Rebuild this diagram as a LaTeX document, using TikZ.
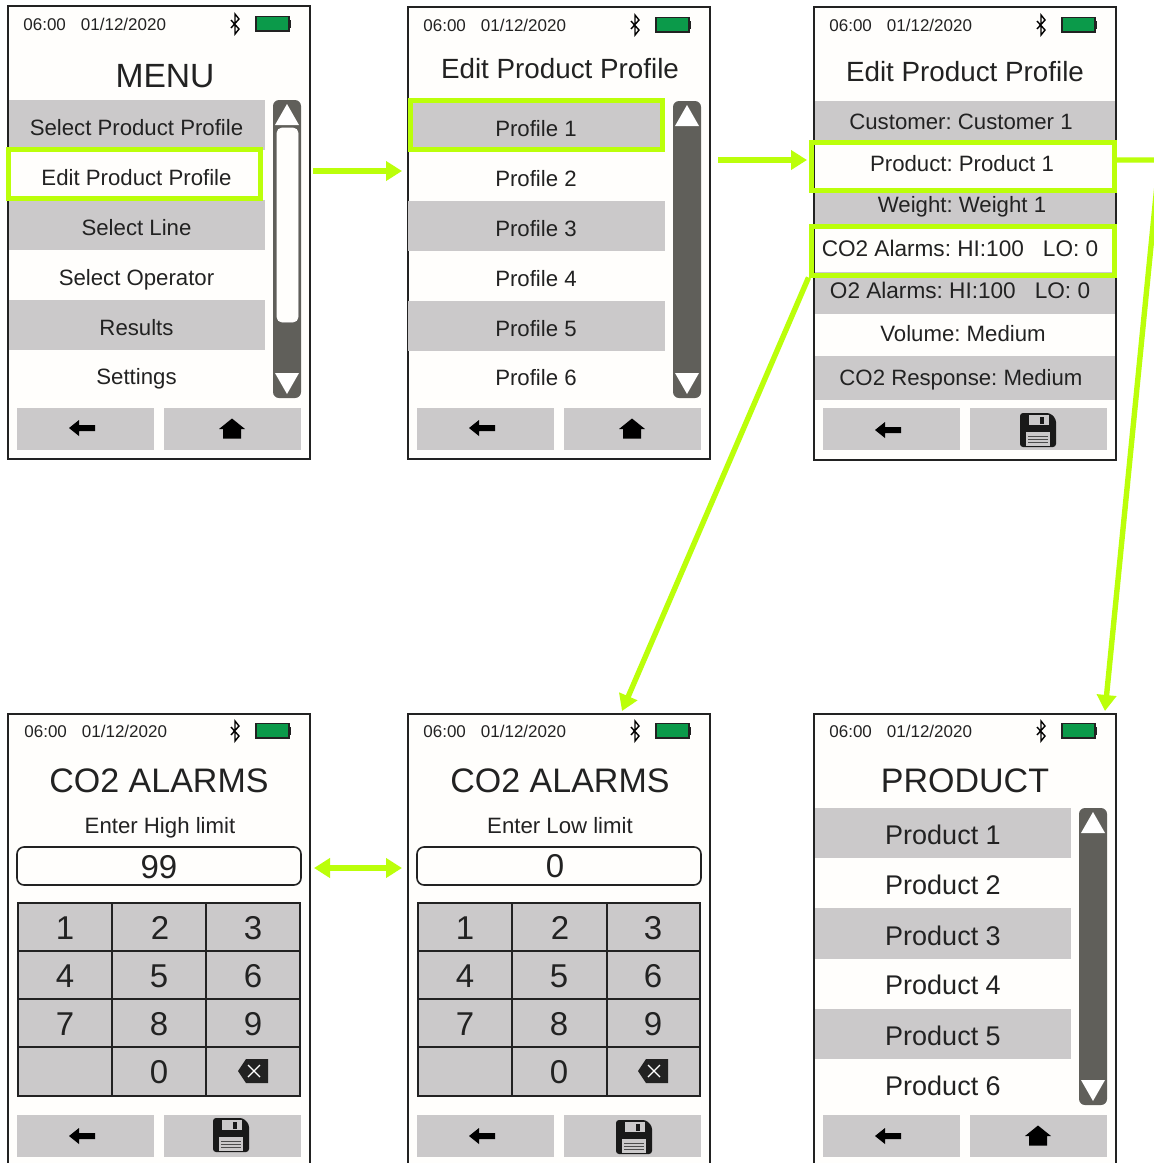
\documentclass[tikz,border=0pt]{standalone}
\usepackage{fontspec}
\setmainfont{Liberation Sans}
\usetikzlibrary{arrows.meta}
\definecolor{gbar}{HTML}{CBC9CA}
\definecolor{sbar}{HTML}{605F5A}
\definecolor{lime}{HTML}{BBFF0A}
\definecolor{ink}{HTML}{222222}
\definecolor{paper}{HTML}{FFFEFC}
\definecolor{batt}{HTML}{0B9A4A}
\newcommand{\pxfont}[1]{\fontsize{#1pt}{#1pt}\selectfont}
\tikzset{
  x=0.5pt,y=-0.5pt,
  frame/.style={draw=ink,line width=1pt,fill=paper},
  band/.style={fill=gbar},
  txt/.style={inner sep=0pt,text=ink,anchor=center,text depth=0pt},
  rowtxt/.style={txt,text height=7.2pt,font=\pxfont{11.1},yshift=-0.4pt},
  prodtxt/.style={txt,text height=9.7pt,font=\pxfont{13.5}},
  titletxt/.style={txt,text height=10pt,font=\pxfont{13.9}},
  bigtxt/.style={txt,text height=12.2pt,font=\pxfont{17}},
  statustxt/.style={txt,text height=6.1pt,anchor=west,font=\pxfont{8.5}},
  keytxt/.style={txt,text height=11.9pt,font=\pxfont{16.5}},
  hilite/.style={draw=lime,line width=2.5pt,inner sep=0pt},
  link/.style={draw=lime,line width=2.7pt},
  linkhead/.style={-{Triangle[length=8pt,width=9.5pt,color=lime]}},
  linkheads/.style={{Triangle[length=8pt,width=9.5pt,color=lime]}-{Triangle[length=8pt,width=9.5pt,color=lime]}},
  keyline/.style={draw=ink,line width=0.8pt}
}
\newcommand{\scrn}[3]{\draw[frame] (#1,#2) rectangle (#1+302,#3);}
% prefix, text x, text y, bt x, batt x
\newcommand{\statusbar}[5]{%
  \node[statustxt] (#1time) at (#2,#3) {06:00\hspace{7.5pt}01/12/2020};
  \draw[black,line width=0.7pt,line join=miter] (#4-4,#3-4) -- (#4+4,#3+5) -- (#4,#3+10) -- (#4,#3-10) -- (#4+4,#3-5) -- (#4-4,#3+4);
  \draw[draw=ink,fill=batt,line width=0.7pt] (#5+1,#3-7.5) rectangle (#5+34,#3+7);
  \fill[ink] (#5+34,#3-4) rectangle (#5+36,#3+3.5);
}
\newcommand{\backicon}[2]{\fill[black] (#1-13,#2) -- (#1-3,#2-8) -- (#1-3,#2-3) -- (#1+13,#2-3) -- (#1+13,#2+3) -- (#1-3,#2+3) -- (#1-3,#2+8) -- cycle;}
\newcommand{\homeicon}[2]{\fill[black] (#1-13,#2) -- (#1,#2-10.5) -- (#1+13,#2) -- (#1+9,#2) -- (#1+9,#2+9.5) -- (#1-9,#2+9.5) -- (#1-9,#2) -- cycle;}
\newcommand{\saveicon}[2]{%
  \fill[rounded corners=1.5pt,black!90] (#1-18,#2-17) -- (#1+12,#2-17) -- (#1+18,#2-11) -- (#1+18,#2+17) -- (#1-18,#2+17) -- cycle;
  \fill[gbar] (#1-9,#2-15) rectangle (#1+11,#2-5);
  \fill[black!90] (#1+2,#2-13) rectangle (#1+6,#2-6);
  \fill[gbar] (#1-12,#2+2) rectangle (#1+12,#2+16);
  \foreach \dy in {6,9,12}{\draw[black!70,line width=0.35pt] (#1-10,#2+\dy) -- (#1+10,#2+\dy);}
}
\newcommand{\bksp}[2]{%
  \fill[ink] (#1-15,#2) -- (#1-7,#2-12) -- (#1+15,#2-12) -- (#1+15,#2+12) -- (#1-7,#2+12) -- cycle;
  \draw[white,line width=0.6pt] (#1-5,#2-6) -- (#1+7,#2+6) (#1-5,#2+6) -- (#1+7,#2-6);
}
\newcommand{\scrollbar}[3]{%
  \fill[sbar,rounded corners=3pt] (#1,#2) rectangle (#1+28,#3);
  \fill[white] (#1+14,#2+4) -- (#1+26,#2+25) -- (#1+2,#2+25) -- cycle;
  \fill[white] (#1+14,#3-4) -- (#1+26,#3-25) -- (#1+2,#3-25) -- cycle;
}
\newcommand{\btns}[3]{%
  \fill[band] (#1,#3) rectangle (#1+137,#3+42);
  \fill[band] (#2,#3) rectangle (#2+137,#3+42);
}
\newcommand{\keypad}[8]{%
  \fill[gbar] (#2,903) rectangle (#5,1096);
  \draw[keyline] (#2,903) rectangle (#5,1096);
  \draw[keyline] (#3,903) -- (#3,1096) (#4,903) -- (#4,1096) (#2,951) -- (#5,951) (#2,999) -- (#5,999) (#2,1047) -- (#5,1047);
  \node[keytxt] (#1k1) at (#6,928) {1};
  \node[keytxt] (#1k2) at (#7+1,928) {2};
  \node[keytxt] (#1k3) at (#8,928) {3};
  \node[keytxt] (#1k4) at (#6,976) {4};
  \node[keytxt] (#1k5) at (#7,976) {5};
  \node[keytxt] (#1k6) at (#8,976) {6};
  \node[keytxt] (#1k7) at (#6,1024) {7};
  \node[keytxt] (#1k8) at (#7,1024) {8};
  \node[keytxt] (#1k9) at (#8,1024) {9};
  \node[keytxt] (#1k0) at (#7,1072) {0};
  \bksp{#8}{1071}
}
\begin{document}
\frenchspacing
\begin{tikzpicture}
\clip (0,0) rectangle (1154,1163);
\fill[white] (0,0) rectangle (1154,1163);

% ---------- screen 1
\scrn{8}{6}{459}
\statusbar{a}{23}{24}{235}{255}
\node[txt,text height=12.1pt,font=\pxfont{16.8}] (atitle) at (165,75) {MENU};
\foreach \t in {100,200,300}{\fill[band] (9,\t) rectangle (265,\t+50);}
\node[rowtxt] (a1) at (136.5,127) {Select Product Profile};
\node[rowtxt] (a2) at (136.5,177) {Edit Product Profile};
\node[rowtxt] (a3) at (136.5,227) {Select Line};
\node[rowtxt] (a4) at (136.5,277) {Select Operator};
\node[rowtxt] (a5) at (136.5,327) {Results};
\node[rowtxt] (a6) at (136.5,376) {Settings};
\scrollbar{273}{100}{398}
\fill[paper,rounded corners=2.5pt,draw=white] (277,128) rectangle (298,322);
\btns{17}{164}{408}
\backicon{82}{428}
\homeicon{232}{429}
\node[hilite,minimum width=126pt,minimum height=24.75pt] (ahl) at (134.5,173.75) {};

% ---------- screen 2
\scrn{408}{7}{459}
\statusbar{b}{423}{25}{635}{655}
\node[titletxt] (btitle) at (560,68) {Edit Product Profile};
\foreach \t in {101,201,301}{\fill[band] (408,\t) rectangle (665,\t+50);}
\node[rowtxt] (b1) at (536,128) {Profile 1};
\node[rowtxt] (b2) at (536,178) {Profile 2};
\node[rowtxt] (b3) at (536,228) {Profile 3};
\node[rowtxt] (b4) at (536,278) {Profile 4};
\node[rowtxt] (b5) at (536,328) {Profile 5};
\node[rowtxt] (b6) at (536,377) {Profile 6};
\scrollbar{673}{101}{398}
\btns{417}{564}{408}
\backicon{482}{428}
\homeicon{632}{429}
\node[hilite,minimum width=126pt,minimum height=24.5pt] (bhl) at (536.5,125) {};

% ---------- screen 3
\scrn{814}{7}{460}
\statusbar{c}{829}{25}{1041}{1061}
\node[titletxt] (ctitle) at (965,71) {Edit Product Profile};
\fill[band] (815,101) rectangle (1115,144);
\fill[band] (815,188) rectangle (1115,228);
\fill[band] (815,272) rectangle (1115,314);
\fill[band] (815,356) rectangle (1115,400);
\node[rowtxt] (c1) at (961,121) {Customer: Customer 1};
\node[rowtxt] (c2) at (962,163) {Product: Product 1};
\node[rowtxt] (c3) at (962,204) {Weight: Weight 1};
\node[rowtxt,font=\pxfont{11.3}] (c4) at (960,248) {CO2 Alarms: HI:100\hspace{9.5pt}LO: 0};
\node[rowtxt,font=\pxfont{11.3}] (c5) at (960,290) {O2 Alarms: HI:100\hspace{9.5pt}LO: 0};
\node[rowtxt] (c6) at (963,333) {Volume: Medium};
\node[rowtxt] (c7) at (961,377) {CO2 Response: Medium};
\btns{823}{970}{408}
\backicon{888}{430}
\saveicon{1038}{430}
\node[hilite,minimum width=151.5pt,minimum height=24.25pt] (chla) at (962.5,166.25) {};
\node[hilite,minimum width=151.5pt,minimum height=24.5pt] (chlb) at (962.5,250.5) {};

% ---------- screen 4
\scrn{8}{714}{1175}
\statusbar{d}{24}{731}{235}{255}
\node[bigtxt] (dtitle) at (159,780) {CO2 ALARMS};
\node[rowtxt] (dsub) at (160,825) {Enter High limit};
\node[draw=ink,line width=0.8pt,rounded corners=3.5pt,fill=paper,minimum width=142pt,minimum height=19pt,inner sep=0pt] (dfield) at (159,866) {};
\node[keytxt] (dval) at (159,867) {99};
\keypad{d}{18}{112}{206}{300}{65}{159}{253}
\btns{17}{164}{1115}
\backicon{82}{1136}
\saveicon{231}{1135}

% ---------- screen 5
\scrn{408}{714}{1175}
\statusbar{e}{423}{731}{635}{655}
\node[bigtxt] (etitle) at (560,780) {CO2 ALARMS};
\node[rowtxt] (esub) at (560,825) {Enter Low limit};
\node[draw=ink,line width=0.8pt,rounded corners=3.5pt,fill=paper,minimum width=142pt,minimum height=19pt,inner sep=0pt] (efield) at (559,866) {};
\node[keytxt] (eval) at (555,866) {0};
\keypad{e}{418}{512}{607}{700}{465}{559}{653}
\btns{417}{564}{1115}
\backicon{482}{1136}
\saveicon{634}{1137}

% ---------- screen 6
\scrn{814}{714}{1175}
\statusbar{f}{829}{731}{1041}{1061}
\node[bigtxt] (ftitle) at (965,780) {PRODUCT};
\fill[band] (815,808) rectangle (1071,858);
\fill[band] (815,908) rectangle (1071,959);
\fill[band] (815,1009) rectangle (1071,1059);
\node[prodtxt] (f1) at (943,835) {Product 1};
\node[prodtxt] (f2) at (943,885) {Product 2};
\node[prodtxt] (f3) at (943,936) {Product 3};
\node[prodtxt] (f4) at (943,985) {Product 4};
\node[prodtxt] (f5) at (943,1036) {Product 5};
\node[prodtxt] (f6) at (943,1086) {Product 6};
\scrollbar{1079}{808}{1105}
\btns{823}{970}{1115}
\backicon{888}{1136}
\homeicon{1038}{1136}

% ---------- connectors
\coordinate (l1s) at (313,171);
\coordinate (l1e) at (402,171);
\coordinate (l2s) at (718,160);
\coordinate (l2e) at (807,160);
\coordinate (l3e) at (622,711);
\coordinate (l4m) at (1159.5,160);
\coordinate (l4e) at (1105,711);
\coordinate (l5s) at (314,868);
\coordinate (l5e) at (402,868);
\draw[link,linkhead] (l1s) -- (l1e);
\draw[link,linkhead] (l2s) -- (l2e);
\draw[link,linkhead] (chlb.south west) -- (l3e);
\draw[link,linkhead] (chla.east |- l4m) -- (l4m) -- (l4e);
\draw[link,linkheads] (l5s) -- (l5e);
\end{tikzpicture}
\end{document}
